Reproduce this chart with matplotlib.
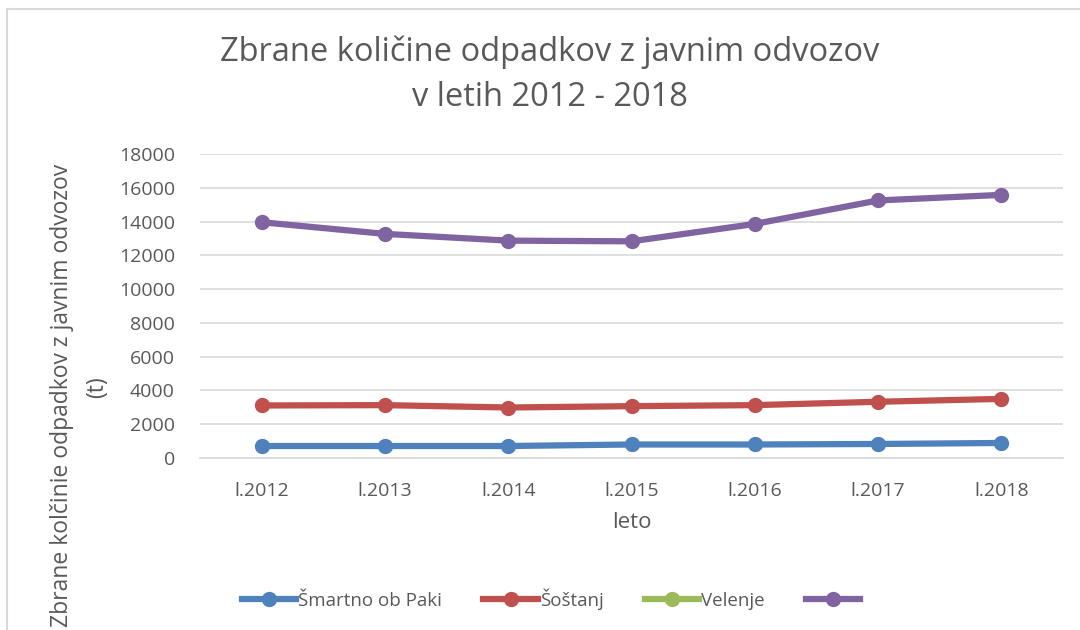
import numpy as np
import matplotlib
matplotlib.use("Agg")
import matplotlib.pyplot as plt
from matplotlib.lines import Line2D

plt.rcParams['font.family'] = ['Open Sans', 'DejaVu Sans']

categories = ["l.2012", "l.2013", "l.2014", "l.2015", "l.2016", "l.2017", "l.2018"]
smartno = [710, 710, 710, 800, 800, 830, 890]
sostanj = [3110, 3130, 2990, 3070, 3130, 3330, 3500]
velenje = [np.nan] * 7
skupaj = [13960, 13270, 12870, 12830, 13860, 15250, 15580]
labels = ["Šmartno ob Paki", "Šoštanj", "Velenje", ""]
yticks = list(range(0, 18001, 2000))

colors = ["#4F81BD", "#C0504D", "#9BBB59", "#8064A2"]
text_color = "#595959"

W, H = 1080, 630
fig = plt.figure(figsize=(W / 100, H / 100), dpi=100)
ax = fig.add_axes([200 / W, 1 - 458 / H, 863 / W, 304 / H])

x = np.arange(len(categories))
for vals, c, lab in zip([smartno, sostanj, velenje, skupaj], colors, labels):
    ax.plot(x, vals, color=c, lw=4.5, marker='o', ms=10, label=lab,
            solid_capstyle='round', zorder=3)

ax.set_xlim(-0.5, len(categories) - 0.5)
ax.set_ylim(0, 18000)
ax.set_yticks(yticks)
ax.set_yticklabels([str(v) for v in yticks])
ax.set_xticks(x)
ax.set_xticklabels(categories)
ax.grid(axis='y', color='#D9D9D9', lw=1.2, zorder=0)
for s in ['top', 'right', 'left']:
    ax.spines[s].set_visible(False)
ax.spines['bottom'].set_color('#D9D9D9')
ax.spines['bottom'].set_linewidth(1.2)
ax.tick_params(axis='both', length=0, labelsize=14, colors=text_color)
ax.tick_params(axis='x', pad=17)
ax.tick_params(axis='y', pad=18)

ax.set_xlabel("leto", fontsize=16, color=text_color, labelpad=9)

fig.text(62 / W, 1 - 395 / H, "Zbrane kolčinie odpadkov z javnim odvozov",
         rotation=90, ha='center', va='center', fontsize=16.5, color=text_color)
fig.text(97 / W, 1 - 387 / H, "(t)",
         rotation=90, ha='center', va='center', fontsize=16.5, color=text_color)

fig.text(550 / W, 1 - 52 / H, "Zbrane količine odpadkov z javnim odvozov",
         ha='center', va='center', fontsize=23.5, color=text_color)
fig.text(550 / W, 1 - 98 / H, "v letih 2012 - 2018",
         ha='center', va='center', fontsize=23.5, color=text_color)

handles = [Line2D([0], [0], color=c, lw=4.5, marker='o', ms=10) for c in colors]
leg = fig.legend(handles, labels, loc='center', bbox_to_anchor=(552 / W, 1 - 599 / H),
                 ncol=4, frameon=False, fontsize=13.5, handlelength=2.9,
                 columnspacing=2.2, handletextpad=0.1, labelcolor=text_color)

# outer chart border
fig.add_artist(Line2D([7 / W, 7 / W], [0, 1 - 9 / H], color='#D9D9D9', lw=1.5,
                      transform=fig.transFigure))
fig.add_artist(Line2D([7 / W, 1], [1 - 9 / H, 1 - 9 / H], color='#D9D9D9', lw=1.5,
                      transform=fig.transFigure))

fig.savefig("out.png", dpi=100, facecolor='white')
